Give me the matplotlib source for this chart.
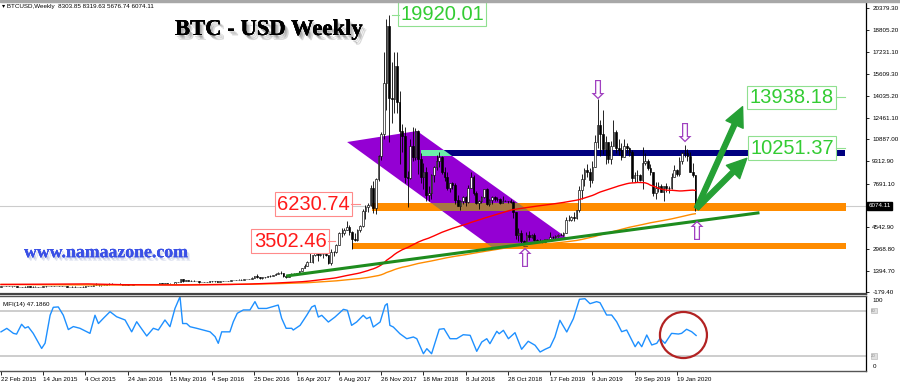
import numpy as np
import pandas as pd
import matplotlib
matplotlib.use("Agg")
import matplotlib.pyplot as plt
from matplotlib.patches import Polygon, Rectangle, Ellipse
from matplotlib import patheffects as pe
from matplotlib.transforms import blended_transform_factory

plt.rcParams['font.family'] = ['Liberation Sans', 'DejaVu Sans']

# weekly BTCUSD candles, first bar = week of 22 Feb 2015, open of first bar
first_open = 235
c15 = [255,275,285,245,247,254,236,222,226,240,242,236,240,230,225,233,245,250,270,290,280,290,283,265,260,
       230,230,240,230,232,235,240,245,262,283,325,385,330,325,360,390,430,440,420,430]
h15 = [262,290,297,294,270,262,260,238,237,243,246,245,242,243,232,235,254,252,272,310,295,292,298,285,272,
       268,236,242,245,235,238,242,247,265,290,335,500,390,340,365,400,465,470,455,435]
l15 = [232,250,268,244,238,242,232,216,218,219,229,232,233,228,220,223,228,240,248,265,268,275,279,260,255,
       200,198,225,228,224,225,233,236,243,260,282,320,300,310,318,355,385,425,415,410]
c16 = [450,385,390,375,380,400,438,430,410,412,410,415,420,420,430,460,455,460,455,440,450,570,590,750,660,680,
       650,665,660,655,590,585,580,580,610,608,610,600,615,615,640,655,700,705,705,745,735,765,775,790,890,1000]
h16 = [460,455,420,400,385,405,445,440,440,420,420,418,425,425,432,462,470,465,462,458,455,580,600,780,780,690,
       705,680,680,665,625,600,585,590,615,625,612,612,618,622,642,660,715,740,720,750,750,770,780,795,900,1000]
l16 = [425,370,365,368,365,372,395,405,405,400,405,408,410,416,418,428,445,440,448,435,438,448,560,585,550,610,
       630,640,650,640,520,570,565,570,570,600,600,592,595,608,612,635,650,680,690,700,725,730,750,765,785,885]
c17 = [905,820,920,915,1015,1000,1050,1180,1250,1230,1000,960,1080,1180,1175,1240,1350,1560,1720,2050,2050,2500,
       2950,2550,2590,2570,2510,1920,2750,2730,3250,4080,4090,4360,4580,4200,3680,3600,4360,4610,5700,6000,6150,
       7380,5950,8040,9700,11300,15000,19100,13900,13800,16200]
h17 = [1140,910,930,925,1020,1060,1060,1200,1290,1330,1250,1070,1100,1200,1215,1250,1360,1580,1850,2100,2760,2550,
       3000,2980,2770,2600,2680,2540,2950,2830,3290,4170,4480,4460,4980,4700,4250,4100,4400,4660,5860,6170,6250,
       7600,7880,8100,9730,11400,17200,19600,19920,16500,17200]
l17 = [880,750,815,885,910,940,990,1045,1160,1110,950,890,960,1075,1150,1170,1235,1340,1550,1700,2000,1950,
       2450,2120,2450,2310,2480,1850,1830,2460,2650,3210,3800,3960,4330,4000,2970,3500,3570,4150,4560,5120,5630,
       6100,5560,5500,7900,9400,10900,13000,10700,12100,12800]
c18 = [13600,11500,11100,8200,8100,10400,9600,11500,9500,8200,8500,6900,7000,8300,8900,9300,9650,8500,8200,7400,
       7700,7600,6500,6100,6400,6700,6350,7400,8200,7000,6300,6400,6700,7300,6200,6500,6700,6600,6600,6300,
       6450,6450,6400,6350,5600,4000,4100,3500,3200,4000,3850,4000]
h18 = [17250,14400,12000,11800,8600,10900,11800,11700,11600,9900,9200,8900,7500,8400,8950,9750,9950,9700,8880,8500,
       7750,7780,7700,6850,6500,6800,6800,7560,8500,8280,7150,6520,6800,7330,7400,6580,6800,6800,6700,6650,
       6800,6500,6450,6550,6450,5600,4450,4300,3580,4200,4250,4050]
l18 = [12800,9100,10000,7700,6000,8000,9300,9400,8400,7700,7300,6450,6450,6600,7800,8700,8900,8350,7900,7250,
       7050,7300,6200,6050,5750,6220,6100,6270,7350,6900,6200,5880,6300,6650,6150,6100,6200,6400,6450,6200,
       6250,6400,6250,6300,5200,3700,3500,3300,3150,3200,3600,3750]
c19 = [3600,3550,3550,3450,3650,3650,3850,3800,3900,4000,4000,4100,5050,5050,5300,5200,5750,7200,8000,8700,
       8550,7950,8900,10700,11900,11300,10200,10700,9500,10400,11400,10300,10100,9600,10400,10300,10000,8100,8300,8300,
       7950,9200,9300,8800,8500,7000,7400,7500,7100,7500,7400,7350]
h19 = [4100,3700,3650,3580,3700,3700,4200,3900,3950,4050,4100,4150,5300,5450,5350,5650,5800,7500,8400,8800,
       9100,8850,9300,11200,13800,12300,13000,11100,10600,10800,12300,11600,10950,10600,10900,10600,10350,10100,8500,8700,
       8400,10350,9900,9500,9100,8500,7800,7800,7650,7550,7700,7550]
l19 = [3550,3480,3500,3380,3400,3600,3600,3700,3700,3850,3950,3900,4100,4950,5000,5000,5150,5650,6600,7500,
       8200,7450,7700,8900,10300,9700,9800,9100,9200,9100,10700,9900,9750,9400,9600,9900,9700,7800,7800,7800,
       7900,7300,9000,8700,8300,6800,6600,7100,7050,6430,7100,7000]
c20 = [8200,8700,8400,9350,9900,9900,9700,8550,8303.85,6074.11]
h20 = [8450,9000,8750,9600,9950,10500,10200,10000,9200,8319.63]
l20 = [7300,8150,8250,8250,9100,9650,9300,8500,8200,5676.74]

# weekly closes Mar 2013 - Feb 2015, only used to warm up the moving averages
pre_close = [93,142,90,120,128,115,115,122,130,129,105,100,102,90,76,96,90,96,104,106,110,122,138,121,126,125,
             128,124,132,155,185,205,300,420,760,1000,870,880,650,750,800,
             850,870,820,810,700,620,580,570,630,630,580,470,460,430,500,490,435,440,450,575,630,650,590,590,600,
             630,635,620,595,590,590,500,510,505,480,475,400,400,330,390,390,355,325,375,390,355,375,345,350,320,
             315,315,270,210,250,225,230,235,235]

# MFI(14): week number / value
mfi_week = [0,2.2,4.7,5.9,7.8,9.1,10.3,12.2,15.4,16.7,18.6,19.8,21.7,23.6,25.5,27.4,29.9,33.7,35.6,36.9,38.8,41.3,
            43.8,47,49.5,51.4,52.7,55.2,57.7,59.6,62.1,64,65.9,67.8,68.8,70.3,71.6,74.1,79.2,81.1,82.3,83.6,86.7,88,
            89.5,91.8,94.3,96.2,97.5,100.6,105,106.3,108,110.1,110.7,113.3,115.8,117.7,118.9,120.2,121.5,124,126.5,
            129.7,131.2,132.8,134.7,137.2,138.5,139.8,141,143.6,145.5,146.3,147.3,148.6,151.1,153.7,156.2,157.5,160,
            161.3,163.1,166,167.8,170.1,172.6,175.1,177.7,180.2,182.1,184,185.2,187.8,188.7,190.3,192.2,194.7,197.2,
            199.7,202.3,204.2,206.1,208,209.8,211.7,214.3,216.8,219.1,221.2,223.1,225.6,226.9,229.4,231.3,233.2,235.1,
            237,240.2,241.4,242.7,244.6,246.5,248.4,249.6,251.5,254,256.6,257.8,259.7,261.6,263.3]
mfi_val = [52,56.6,50,49,62,57,58.8,50,30,37,74,84.5,85,74,55,59,56.7,50,74,63,70,78.7,
           72,67.7,52,65.4,58.8,46.5,56.7,54.4,67.7,58.8,83,98.5,63,63,58.8,56.7,52,45.6,36.8,52,52,65.4,
           76.6,81,81,92,83,83,87.5,70,56.7,56.7,54.4,60.6,73.9,84.9,87,71.6,73.9,65,71.6,
           81.8,80.5,60.6,65,73.9,69.4,71.6,58.4,65,87,89.3,60.6,58.4,49.5,42.9,45.2,42.9,23,
           29.7,23,55.4,56.2,42.9,42.9,48.2,47.4,26.2,38.5,42.9,36.3,52.7,49.5,54,42.9,50.9,28.9,
           39.5,34.2,25.3,28.9,31.9,45.2,67.3,51.8,69.4,95.1,95.9,89.3,92,90.6,74.3,74.3,65.4,52.2,
           54.4,32.3,38.9,32.3,47.8,34.6,36.8,43.4,36.8,50,49.1,50,55.4,52.2,47.2]

price_ticks = [20379.30, 18805.20, 17231.10, 15609.30, 14035.20, 12461.10, 10887.00, 9312.90,
               7691.10, 4542.90, 2968.80, 1394.70, -179.40]
date_labels = ['22 Feb 2015', '14 Jun 2015', '4 Oct 2015', '24 Jan 2016', '15 May 2016', '4 Sep 2016',
               '25 Dec 2016', '16 Apr 2017', '6 Aug 2017', '26 Nov 2017', '18 Mar 2018', '8 Jul 2018',
               '28 Oct 2018', '17 Feb 2019', '9 Jun 2019', '29 Sep 2019', '19 Jan 2020']
last_price = 6074.11

close = np.array(c15 + c16 + c17 + c18 + c19 + c20, dtype=float)
high = np.array(h15 + h16 + h17 + h18 + h19 + h20, dtype=float)
low = np.array(l15 + l16 + l17 + l18 + l19 + l20, dtype=float)
opn = np.concatenate([[first_open], close[:-1]])
high = np.maximum(high, np.maximum(opn, close))
low = np.minimum(low, np.minimum(opn, close))
wk = np.arange(len(close))

full = pd.Series(pre_close + list(close))
ma100 = full.rolling(100, min_periods=1).mean().iloc[len(pre_close):].values
ma200 = full.rolling(200, min_periods=1).mean().iloc[len(pre_close):].values

W, H = 900, 386
fig = plt.figure(figsize=(9, 3.86), dpi=100)


def px_axes(left, top, right, bottom):
    return fig.add_axes([left / W, 1 - bottom / H, (right - left) / W, (bottom - top) / H])


def soft_shadow(col, n=3):
    # a few stacked offset copies to fake a blurred drop shadow
    fx = [pe.withSimplePatchShadow(offset=(1 + k, -1.5 - k), shadow_rgbFace=col, alpha=0.22) for k in range(n)]
    return fx + [pe.Normal()]


ax = px_axes(0, 2, 866, 293.5)
ax2 = px_axes(0, 295.6, 866, 371.1)

ax.set_xlim(-0.38, 327.65)
ax.set_ylim(-266.3, 20835.4)
ax2.set_xlim(-0.38, 327.65)
ax2.set_ylim(0, 100)

# top gray strip
fig.patches.append(Rectangle((0, 1 - 2 / H), 1, 2 / H, transform=fig.transFigure, color='#a8a8a8'))

# current price line
ax.axhline(last_price, color='#cccccc', lw=0.8, zorder=0.5)

# descending channel
chan = Polygon([(131.1, 10700), (157.6, 11497), (214.4, 3751), (186.4, 3027)],
               closed=True, facecolor='#9400d3', edgecolor='none', zorder=1)
ax.add_patch(chan)

# horizontal zones, with the colour they take where they cross the channel
zones = [((159.1, 319.7), (9710, 10120), '#000080', '#6cefaa'),
         ((140.5, 320.0), (5730, 6300), '#ff8c00', '#a67843'),
         ((133.0, 320.0), (2950, 3420), '#ff8c00', '#a67843')]
for (x0, x1), (y0, y1), col, mix in zones:
    ax.add_patch(Rectangle((x0, y0), x1 - x0, y1 - y0, facecolor=col, edgecolor='none', zorder=1.5))
    over = Rectangle((x0, y0), x1 - x0, y1 - y0, facecolor=mix, edgecolor='none', zorder=1.6)
    ax.add_patch(over)
    over.set_clip_path(chan)

# candles
up = close >= opn
ax.vlines(wk, low, high, color='black', lw=0.6, zorder=2.9)
ax.bar(wk[up], (close - opn)[up], bottom=opn[up], width=0.62, facecolor='white',
       edgecolor='black', linewidth=0.45, zorder=3)
ax.bar(wk[~up], (opn - close)[~up], bottom=close[~up], width=0.62, facecolor='black',
       edgecolor='black', linewidth=0.45, zorder=3)

# moving averages
ax.plot(wk, ma200, color='#ff8c00', lw=1.0, zorder=3.5)
ax.plot(wk, ma100, color='#ff0000', lw=1.0, zorder=3.5)

# trend line
ax.plot([108, 287.3], [1000, 5582], color='#1e8c1e', lw=2.2, zorder=4, solid_capstyle='butt')

# projection arrows
for tip in [(280.9, 13257), (282.5, 9521)]:
    ax.annotate('', xy=tip, xytext=(263.5, 5901),
                arrowprops=dict(arrowstyle='simple,head_length=1.4,head_width=1.35,tail_width=0.35',
                                mutation_scale=10, color='#25a035', shrinkA=0, shrinkB=0), zorder=5)

# hollow marker arrows
for x, y, s in [(226.1, 14320, '\u21e9'), (259.1, 11207, '\u21e9'),
                (198.5, 2159, '\u21e7'), (263.5, 4091, '\u21e7')]:
    ax.text(x, y, s, fontsize=19, color='#a040c0', ha='center', va='center',
            family='DejaVu Sans', zorder=5)

# price labels
labels = [(167.0, 19966, '19920.01', '#33cc33', '#90e090', (148.0, 150.8), 19920.01),
          (299.6, 13922, '13938.18', '#33cc33', '#90e090', (316.3, 319.7), 13938.18),
          (299.6, 10266, '10251.37', '#33cc33', '#90e090', (316.3, 319.7), 10251.37),
          (118.4, 6212, '6230.74', '#ff1a1a', '#ff8a8a', (132.6, 136.0), 6230.74),
          (109.5, 3512, '3502.46', '#ff1a1a', '#ff8a8a', (124.0, 126.5), 3502.46)]
for x, y, s, tc, ec, (t0, t1), ty in labels:
    ax.text(x, y, s, fontsize=14.5, color=tc, ha='center', va='center', zorder=6, clip_on=False,
            bbox=dict(boxstyle='square,pad=0.12', facecolor='white', edgecolor=ec, lw=0.8))
    ax.plot([t0, t1], [ty, ty], color=ec, lw=0.8, zorder=6, clip_on=False)

# right price scale
ax.yaxis.tick_right()
ax.set_yticks(price_ticks)
ax.set_yticklabels([f'{v:.2f}' for v in price_ticks])
ax.tick_params(axis='y', labelsize=4.5, length=2.5, width=0.6, pad=2)
ax.set_xticks([])
trans = blended_transform_factory(ax.transAxes, ax.transData)
ax.text(1.003, last_price, f'{last_price:.2f}', transform=trans, fontsize=4.5, color='white',
        ha='left', va='center', bbox=dict(boxstyle='square,pad=0.25', facecolor='black', edgecolor='black'))

for a in (ax, ax2):
    a.spines['left'].set_visible(False)
    a.spines['top'].set_visible(False)
    a.spines['right'].set_color('black')
    a.spines['right'].set_linewidth(0.9)
ax.spines['bottom'].set_color('#444444')
ax.spines['bottom'].set_linewidth(1.6)
ax2.spines['top'].set_visible(True)
ax2.spines['top'].set_color('#555555')
ax2.spines['top'].set_linewidth(1.0)
ax2.spines['bottom'].set_color('#555555')
ax2.spines['bottom'].set_linewidth(1.0)

# MFI panel
ax2.axhline(80, color='#c0c0c0', lw=1.1, zorder=1)
ax2.axhline(20, color='#c0c0c0', lw=1.1, zorder=1)
ax2.plot(mfi_week, mfi_val, color='#1e90ff', lw=1.0, zorder=2)
ax2.add_patch(Ellipse((258.5, 47.8), 17.8, 61, fill=False, edgecolor='#b22222', lw=1.6,
                      zorder=3, clip_on=False))
ax2.text(0.004, 0.88, 'MFI(14) 47.1860', transform=ax2.transAxes, fontsize=4.5, ha='left', va='center')
trans2 = blended_transform_factory(ax2.transAxes, ax2.transData)
ax2.text(1.008, 94, '100', transform=trans2, fontsize=4.5, ha='left', va='center')
ax2.text(1.008, 5.5, '0', transform=trans2, fontsize=4.5, ha='left', va='center')
for lv in (80, 20):
    ax2.text(1.006, lv, str(lv), transform=trans2, fontsize=3.2, color='#909090', ha='left', va='center',
             bbox=dict(boxstyle='square,pad=0.15', facecolor='#e0e0e0', edgecolor='#b0b0b0', lw=0.4))
ax2.set_yticks([])
ax2.set_xticks(range(0, 257, 16))
ax2.set_xticklabels(date_labels, ha='left')
ax2.tick_params(axis='x', labelsize=4.5, length=3, width=0.6, pad=1.5)

# titles
fig.text(175 / W, 1 - 29.5 / H, 'BTC - USD Weekly', fontsize=16.3, fontweight='bold',
         family='Liberation Serif', ha='left', va='center', path_effects=soft_shadow('#555555'))
fig.text(24 / W, 1 - 252.7 / H, 'www.namaazone.com', fontsize=12.8, fontweight='bold', color='#3a50e6',
         family='Liberation Serif', ha='left', va='center', path_effects=soft_shadow('#7080c0', 2))
fig.text(2 / W, 1 - 6.5 / H, '\u25be BTCUSD,Weekly  8303.85 8319.63 5676.74 6074.11', fontsize=4.5,
         ha='left', va='center')

fig.savefig('out.png', dpi=100, facecolor='white')
